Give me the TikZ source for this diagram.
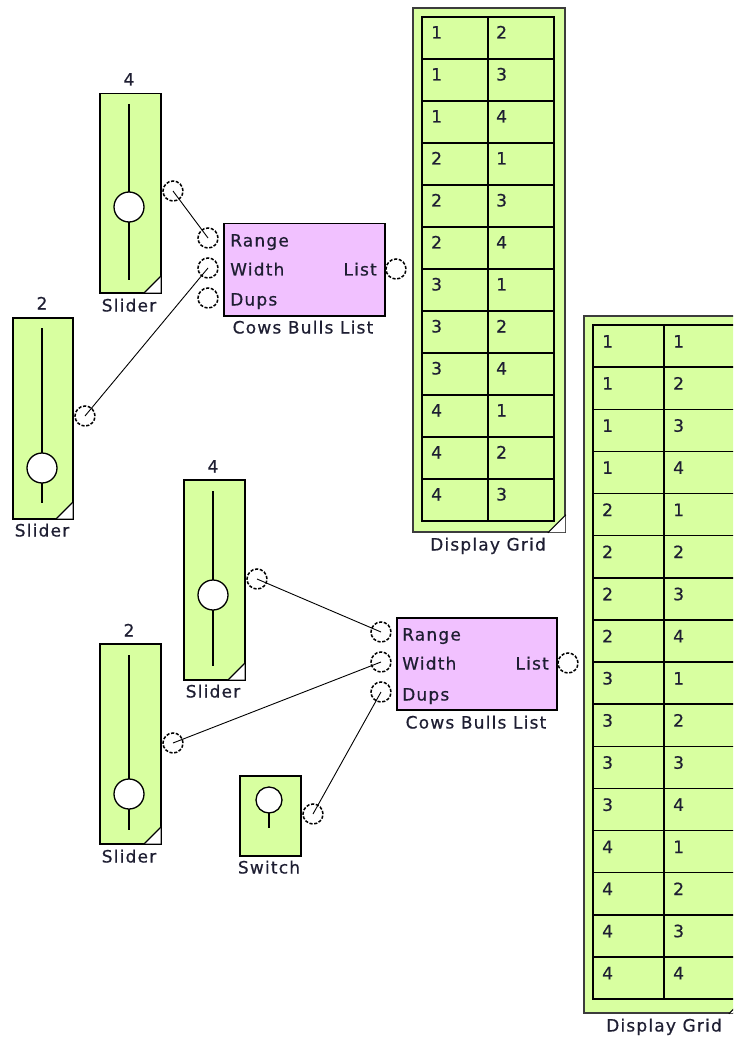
\documentclass[tikz,border=0pt]{standalone}
\usepackage{fontspec}
\newfontfamily\uifont{DejaVu Sans}[LetterSpace=7,FakeBold=0.6]
\definecolor{sgreen}{RGB}{216,255,160}
\definecolor{spink}{RGB}{241,193,255}
\definecolor{txt}{RGB}{30,30,50}
\definecolor{gframe}{RGB}{60,60,60}
\newcommand\slcorner[1]{%
  \fill[white] ([shift={(-0.8,-0.8)}]#1.south east) -- ++(-17,0) -- ++(17,-17) -- cycle;
  \draw[line width=1.1pt] ([shift={(-18,0)}]#1.south east) -- ([shift={(0,-18)}]#1.south east);}
\begin{document}
\begin{tikzpicture}[x=1pt,y=-1pt,
  every node/.style={font=\uifont\fontsize{17}{20}\selectfont, text=txt},
  sbox/.style={draw=black, line width=1.5pt, fill=sgreen, anchor=north west, inner sep=0},
  fbox/.style={draw=black, line width=1.5pt, fill=spink, anchor=north west, inner sep=0},
  gbox/.style={draw=gframe, line width=1.8pt, fill=sgreen, anchor=north west, inner sep=0},
  port/.style={circle, draw=black, line width=1.5pt, dash pattern=on 3.2pt off 1.6pt, fill=white, minimum size=20, inner sep=0},
  knob/.style={circle, draw=black, line width=1.3pt, fill=white, minimum size=30, inner sep=0},
  track/.style={line width=1.6pt},
  wire/.style={line width=0.9pt},
  gline/.style={line width=1.5pt},
  lbl/.style={inner sep=0, text height=12, text depth=3},
  pin/.style={lbl, anchor=west},
  pout/.style={lbl, anchor=east},
  cell/.style={lbl, anchor=west}]
\useasboundingbox (0,0) rectangle (733,1040);
\clip (0,0) rectangle (733,1040);

% ---------- Slider A (top, 4) ----------
\node[sbox, minimum width=61, minimum height=199] (sA) at (99,93) {};
\draw[track] (129,104) -- (129,280);
\node[knob] (kA) at (129,207) {};
\slcorner{sA}
\node[lbl] (vA) at (129,81) {4};
\node[lbl] (lA) at (129,307) {Slider};
\node[port] (sAo) at (173,191) {};

% ---------- Slider B (2) ----------
\node[sbox, minimum width=60, minimum height=201] (sB) at (12,317) {};
\draw[track] (42,328) -- (42,503);
\node[knob] (kB) at (42,468) {};
\slcorner{sB}
\node[lbl] (vB) at (42,305) {2};
\node[lbl] (lB) at (42,532) {Slider};
\node[port] (sBo) at (85,416) {};

% ---------- Cows Bulls List 1 ----------
\node[fbox, minimum width=161, minimum height=92] (c1) at (223,223) {};
\node[pin] (c1t1) at (230,242) {Range};
\node[pin] (c1t2) at (230,271) {Width};
\node[pin] (c1t3) at (230,301) {Dups};
\node[pout] (c1t4) at (377,271) {List};
\node[lbl] (c1l) at (303,329) {Cows Bulls List};
\node[port] (c1r) at (208,238) {};
\node[port] (c1w) at (208,268) {};
\node[port] (c1d) at (208,298) {};
\node[port] (c1o) at (396,269) {};

% ---------- Display Grid 1 ----------
\node[gbox, minimum width=152, minimum height=524] (g1) at (412,7) {};
\draw[gline] (422,17) rectangle (554,521);
\draw[gline] (488,17) -- (488,521);
\foreach \i in {1,...,11} \draw[gline] (422,{17+42*\i}) -- (554,{17+42*\i});
\foreach \a/\b [count=\i from 0] in {1/2,1/3,1/4,2/1,2/3,2/4,3/1,3/2,3/4,4/1,4/2,4/3} {
  \node[cell] (g1a\i) at (431,{17+42*\i+17}) {\a};
  \node[cell] (g1b\i) at (496,{17+42*\i+17}) {\b};
}
\slcorner{g1}
\node[lbl] (g1l) at (488,546) {Display Grid};

% ---------- Slider C (4) ----------
\node[sbox, minimum width=61, minimum height=200] (sC) at (183,479) {};
\draw[track] (213,491) -- (213,666);
\node[knob] (kC) at (213,595) {};
\slcorner{sC}
\node[lbl] (vC) at (213,468) {4};
\node[lbl] (lC) at (213,693) {Slider};
\node[port] (sCo) at (257,579) {};

% ---------- Slider D (2) ----------
\node[sbox, minimum width=61, minimum height=200] (sD) at (99,643) {};
\draw[track] (129,655) -- (129,830);
\node[knob] (kD) at (129,794) {};
\slcorner{sD}
\node[lbl] (vD) at (129,632) {2};
\node[lbl] (lD) at (129,858) {Slider};
\node[port] (sDo) at (173,743) {};

% ---------- Switch ----------
\node[sbox, minimum width=61, minimum height=80] (sw) at (239,775) {};
\draw[track] (269,812) -- (269,828);
\node[circle, draw=black, line width=1.3pt, fill=white, minimum size=26, inner sep=0] (swk) at (269,800) {};
\node[lbl] (swl) at (269,869) {Switch};
\node[port] (swo) at (313,814) {};

% ---------- Cows Bulls List 2 ----------
\node[fbox, minimum width=160, minimum height=92] (c2) at (396,617) {};
\node[pin] (c2t1) at (402,636) {Range};
\node[pin] (c2t2) at (402,665) {Width};
\node[pin] (c2t3) at (402,696) {Dups};
\node[pout] (c2t4) at (549,665) {List};
\node[lbl] (c2l) at (476,724) {Cows Bulls List};
\node[port] (c2r) at (381,632) {};
\node[port] (c2w) at (381,662) {};
\node[port] (c2d) at (381,692) {};
\node[port] (c2o) at (568,663) {};

% ---------- Display Grid 2 ----------
\node[gbox, minimum width=162, minimum height=697] (g2) at (583,315) {};
\draw[gline] (593,325) rectangle (735,999);
\draw[gline] (664,325) -- (664,999);
\foreach \i in {1,...,15} \draw[gline] (593,{325+42.125*\i}) -- (735,{325+42.125*\i});
\foreach \a/\b [count=\i from 0] in {1/1,1/2,1/3,1/4,2/1,2/2,2/3,2/4,3/1,3/2,3/3,3/4,4/1,4/2,4/3,4/4} {
  \node[cell] (g2a\i) at (602,{325+42.125*\i+18}) {\a};
  \node[cell] (g2b\i) at (673,{325+42.125*\i+18}) {\b};
}
\slcorner{g2}
\node[lbl] (g2l) at (664,1027) {Display Grid};

% ---------- Wires ----------
\draw[wire] (sAo.center) -- (c1r.center);
\draw[wire] (sBo.center) -- (c1w.center);
\draw[wire] (sCo.center) -- (c2r.center);
\draw[wire] (sDo.center) -- (c2w.center);
\draw[wire] (swo.center) -- (c2d.center);
\end{tikzpicture}
\end{document}
